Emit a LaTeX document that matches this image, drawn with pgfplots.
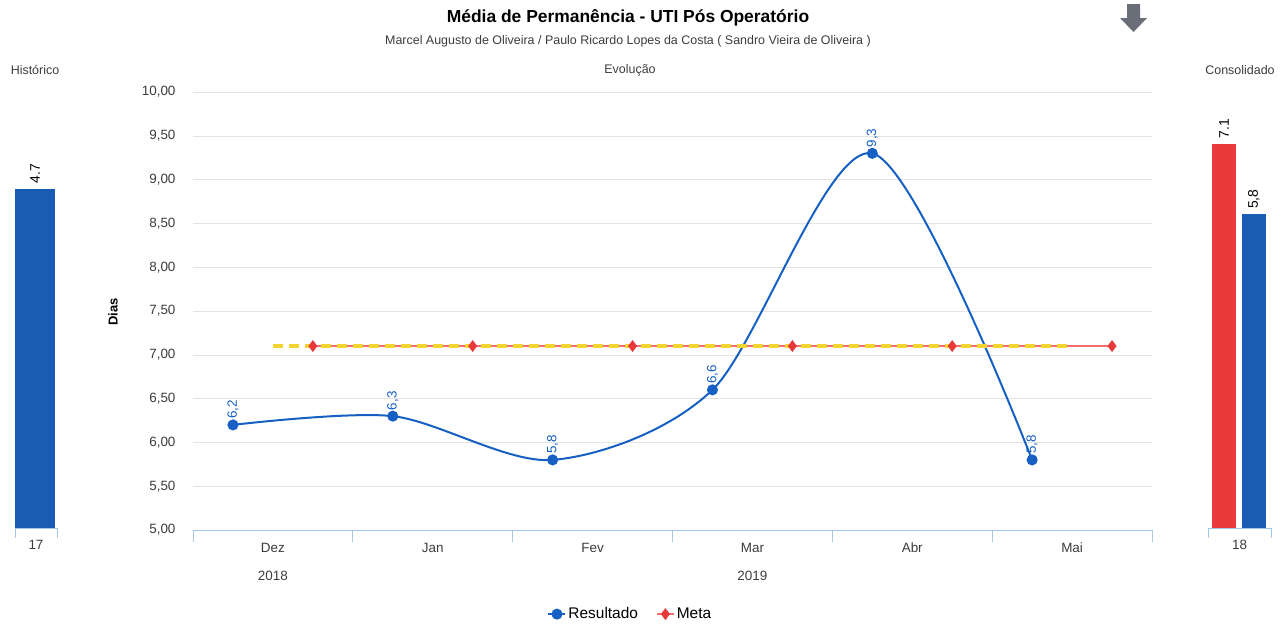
\documentclass[border=0pt]{standalone}
\usepackage{fontspec}
\setmainfont{Liberation Sans}
\usepackage{pgfplots}
\pgfplotsset{compat=1.18}

\definecolor{resblue}{RGB}{22,96,196}
\definecolor{barblue}{RGB}{26,92,180}
\definecolor{barred}{RGB}{232,58,58}
\definecolor{metared}{RGB}{240,110,110}
\definecolor{metayellow}{RGB}{242,212,50}
\definecolor{axisblue}{RGB}{165,198,228}
\definecolor{txtgray}{RGB}{60,60,60}
\definecolor{gridgray}{RGB}{228,228,228}
\definecolor{icongray}{RGB}{105,110,120}

\begin{document}
\begin{tikzpicture}
\path (0,0) rectangle (1285bp,-625bp);

% titles and panel headings
\node[font=\fontsize{17.5}{20}\selectfont\bfseries] at (628bp,-18bp) {Média de Permanência - UTI Pós Operatório};
\node[font=\fontsize{12.5}{15}\selectfont, text=txtgray] at (628bp,-41bp) {Marcel Augusto de Oliveira / Paulo Ricardo Lopes da Costa ( Sandro Vieira de Oliveira )};
\node[font=\fontsize{12.5}{15}\selectfont, text=txtgray] at (35bp,-70bp) {Histórico};
\node[font=\fontsize{12.5}{15}\selectfont, text=txtgray] at (630bp,-70bp) {Evolução};
\node[font=\fontsize{12.5}{15}\selectfont, text=txtgray] at (1240bp,-70bp) {Consolidado};
\node[rotate=90, font=\fontsize{13}{15}\selectfont\bfseries] at (113bp,-312bp) {Dias};
\fill[icongray] (1127bp,-4bp) -- (1140bp,-4bp) -- (1140bp,-18bp) -- (1147bp,-18bp)
  -- (1133.5bp,-32bp) -- (1120bp,-18bp) -- (1127bp,-18bp) -- cycle;

% main chart
\begin{axis}[
  at={(193bp,-530bp)}, anchor=south west,
  scale only axis, width=959bp, height=438bp,
  xmin=0, xmax=6, ymin=5, ymax=10,
  clip=false,
  axis x line*=bottom, axis y line*=left,
  y axis line style={draw=none},
  x axis line style={draw=axisblue, line width=0.8bp},
  ytick={5,5.5,...,10},
  ymajorgrids, grid style={draw=gridgray, line width=0.6bp},
  major tick length=0bp, minor tick length=12bp,
  tick align=outside,
  xtick={0.5,1.5,...,5.5},
  xticklabels={Dez,Jan,Fev,Mar,Abr,Mai},
  minor xtick={0,1,...,6},
  minor x tick style={draw=axisblue, line width=0.8bp},
  major x tick style={draw=none},
  tick label style={font=\fontsize{13.5}{16}\selectfont, text=txtgray},
  xticklabel style={yshift=-9bp, text height=10bp, text depth=3bp},
  yticklabel style={xshift=-14bp,
    /pgf/number format/.cd, fixed, fixed zerofill, precision=2, use comma, assume math mode=true},
  legend style={at={(axis description cs:0.456,-0.192)}, anchor=center, draw=none,
    font=\fontsize{15.5}{18}\selectfont, legend columns=2,
    /tikz/every even column/.append style={column sep=16bp}},
  legend cell align=left,
]
\addplot[color=resblue, line width=2bp, smooth, tension=0.5,
  mark=*, mark size=4.5bp, mark options={fill=resblue, draw=resblue},
  point meta=explicit symbolic, nodes near coords,
  every node near coord/.style={rotate=90, anchor=west, inner sep=5bp,
    text=resblue, font=\fontsize{13.5}{16}\selectfont}]
  coordinates {(0.25,6.2)[6,2] (1.25,6.3)[6,3] (2.25,5.8)[5,8]
               (3.25,6.6)[6,6] (4.25,9.3)[9,3] (5.25,5.8)[5,8]};
\addlegendentry{Resultado}
\addplot[color=metared, line width=1.8bp, mark=diamond*, mark size=4.5bp,
  mark options={fill=barred, draw=barred}]
  coordinates {(0.75,7.1) (1.75,7.1) (2.75,7.1) (3.75,7.1) (4.75,7.1) (5.75,7.1)};
\addlegendentry{Meta}
\addplot[forget plot, color=metayellow, line width=3.5bp, dash pattern=on 10bp off 6bp]
  coordinates {(0.5,7.1) (5.5,7.1)};
\addplot[forget plot, only marks, mark=diamond*, mark size=4.5bp,
  mark options={fill=barred, draw=barred}]
  coordinates {(0.75,7.1) (1.75,7.1) (2.75,7.1) (3.75,7.1) (4.75,7.1) (5.75,7.1)};
\node[font=\fontsize{13.5}{16}\selectfont, text=txtgray] at (axis cs:0.5,5) [yshift=-46bp] {2018};
\node[font=\fontsize{13.5}{16}\selectfont, text=txtgray] at (axis cs:3.5,5) [yshift=-46bp] {2019};
\end{axis}

% historico
\begin{axis}[
  at={(15bp,-528bp)}, anchor=south west,
  scale only axis, width=42bp, height=433bp,
  xmin=0, xmax=42, ymin=0, ymax=6,
  clip=false,
  axis x line*=bottom, axis y line=none,
  x axis line style={draw=axisblue, line width=0.8bp},
  major tick length=0bp, minor tick length=10bp, tick align=outside,
  xtick={21}, xticklabels={17}, minor xtick={0,42},
  minor x tick style={draw=axisblue, line width=0.8bp},
  major x tick style={draw=none},
  tick label style={font=\fontsize{13.5}{16}\selectfont, text=txtgray},
  xticklabel style={yshift=-9bp},
]
\addplot[ybar, bar width=40bp, bar shift=0bp, fill=barblue, draw=none,
  point meta=explicit symbolic, nodes near coords,
  every node near coord/.style={rotate=90, anchor=west, inner sep=5bp,
    font=\fontsize{14}{16}\selectfont}]
  coordinates {(20,4.7)[4.7]};
\end{axis}

% consolidado
\begin{axis}[
  at={(1208bp,-528bp)}, anchor=south west,
  scale only axis, width=63bp, height=433bp,
  xmin=0, xmax=63, ymin=0, ymax=8,
  clip=false,
  axis x line*=bottom, axis y line=none,
  x axis line style={draw=axisblue, line width=0.8bp},
  major tick length=0bp, minor tick length=10bp, tick align=outside,
  xtick={31.5}, xticklabels={18}, minor xtick={0,63},
  minor x tick style={draw=axisblue, line width=0.8bp},
  major x tick style={draw=none},
  tick label style={font=\fontsize{13.5}{16}\selectfont, text=txtgray},
  xticklabel style={yshift=-9bp},
  every node near coord/.style={rotate=90, anchor=west, inner sep=5bp,
    font=\fontsize{14}{16}\selectfont},
]
\addplot[ybar, bar width=24bp, bar shift=0bp, fill=barred, draw=none,
  point meta=explicit symbolic, nodes near coords]
  coordinates {(16,7.1)[7.1]};
\addplot[ybar, bar width=24bp, bar shift=0bp, fill=barblue, draw=none,
  point meta=explicit symbolic, nodes near coords]
  coordinates {(46,5.8)[5,8]};
\end{axis}
\end{tikzpicture}
\end{document}
